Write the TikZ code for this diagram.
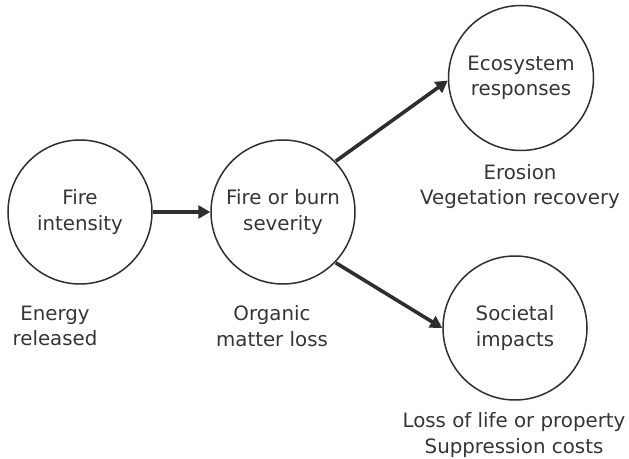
\documentclass[tikz,border=0pt]{standalone}
\usepackage{fontspec}
\setmainfont{DejaVu Sans}
\usetikzlibrary{arrows.meta}
\definecolor{ink}{HTML}{2E2E2E}
\definecolor{txt}{HTML}{353535}
\begin{document}
\begin{tikzpicture}[x=1pt,y=1pt,
  every node/.style={font=\fontsize{19.8}{25.5}\selectfont, text=txt, align=center},
  stage/.style={circle, draw=ink, line width=1.5pt, minimum size=144pt, inner sep=0pt},
  note/.style={anchor=north, inner sep=0pt},
  flow/.style={draw=ink, line width=3.6pt, -{Triangle[length=12pt,width=13pt]}, shorten <=0.5pt}
]
\useasboundingbox (0,0) rectangle (629,458);

% process stages
\node[stage] (fi)  at (80,246)  {Fire\\intensity};
\node[stage] (sev) at (283,246) {Fire or burn\\severity};
\node[stage, minimum size=145pt] (eco) at (521,380) {Ecosystem\\responses};
\node[stage] (soc) at (515,130) {Societal\\impacts};

% measures under each stage
\node[note] (fiN)  at (55,152.5)  {Energy\\released};
\node[note] (sevN) at (272,152.5) {Organic\\matter loss};
\node[note] (ecoN) at (520,294)   {Erosion\\Vegetation recovery};
\node[note] (socN) at (514,45.5)  {Loss of life or property\\Suppression costs};

% causal links
\draw[flow] (fi.east) -- (sev.west);
\draw[flow] (sev.44) -- (eco.182);
\draw[flow] (sev.-44) -- (soc.west);
\end{tikzpicture}
\end{document}
